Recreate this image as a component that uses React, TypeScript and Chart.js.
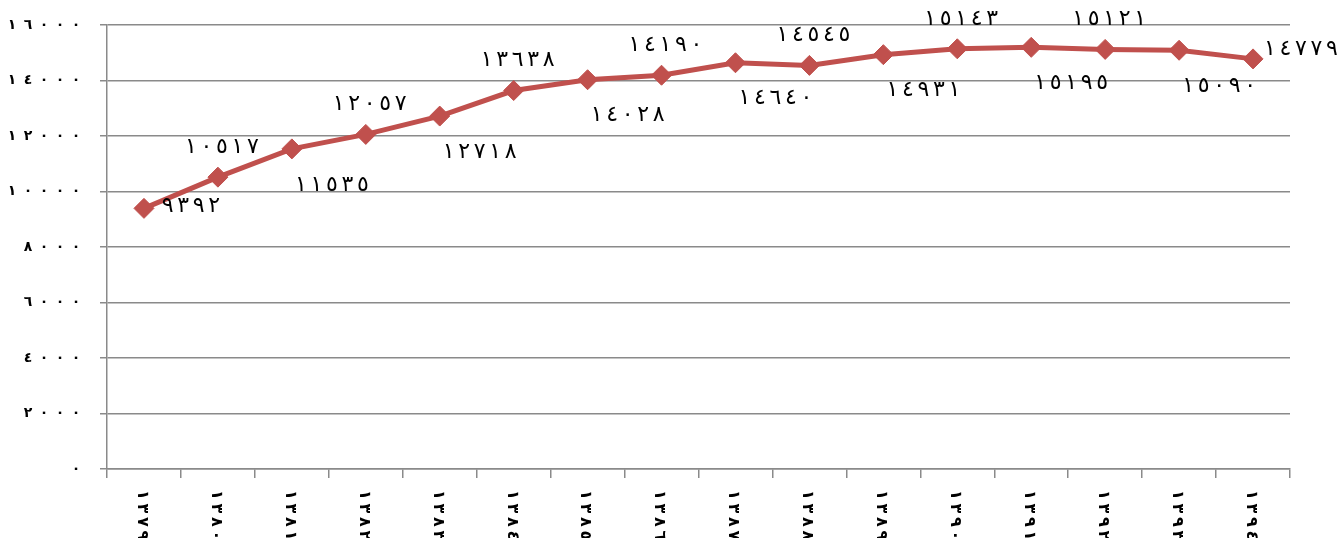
import { useEffect, useRef } from 'react';
import { Chart, registerables } from 'chart.js';
Chart.register(...registerables);

const years = ['١٣٧٩', '١٣٨٠', '١٣٨١', '١٣٨٢', '١٣٨٣', '١٣٨٤', '١٣٨٥', '١٣٨٦', '١٣٨٧', '١٣٨٨', '١٣٨٩', '١٣٩٠', '١٣٩١', '١٣٩٢', '١٣٩٣', '١٣٩٤'];
const values = [9392, 10517, 11535, 12057, 12718, 13638, 14028, 14190, 14640, 14545, 14931, 15143, 15195, 15121, 15090, 14779];
const yTicks = [0, 2000, 4000, 6000, 8000, 10000, 12000, 14000, 16000];

const toAr = (v: number | string) => String(v).replace(/\d/g, (d) => '٠١٢٣٤٥٦٧٨٩'[+d]);

const LINE = '#C0504D';
const GRID = '#8a8a8a';

// draws digits one by one with a fixed advance (wide Excel-like spacing)
function drawSpaced(ctx: CanvasRenderingContext2D, text: string, x: number, y: number, adv: number, align: 'left' | 'center' | 'right') {
  const chars = Array.from(text);
  const total = adv * (chars.length - 1);
  let start = x;
  if (align === 'center') start = x - total / 2;
  else if (align === 'right') start = x - total;
  const prev = ctx.textAlign;
  ctx.textAlign = 'center';
  chars.forEach((c, i) => ctx.fillText(c, start + i * adv, y));
  ctx.textAlign = prev;
}

const textPlugin = {
  id: 'texts',
  afterDraw(chart: any) {
    const xs = chart.scales.x;
    const ys = chart.scales.y;
    const ctx = chart.ctx;
    ctx.save();
    ctx.fillStyle = '#000';
    ctx.textBaseline = 'middle';
    // x labels, rotated clockwise
    ctx.font = 'bold 16px "DejaVu Sans"';
    years.forEach((lab, i) => {
      const x = xs.getPixelForValue(i) - 2;
      ctx.save();
      ctx.translate(x, xs.top + 26);
      ctx.rotate(Math.PI / 2);
      drawSpaced(ctx, lab, 0, 0, 13.5, 'left');
      ctx.restore();
    });
    // y labels
    ctx.font = 'bold 14px "DejaVu Sans"';
    yTicks.forEach((v) => {
      drawSpaced(ctx, toAr(v), ys.right - 31, ys.getPixelForValue(v), 16, 'right');
    });
    ctx.restore();
  },
  afterDatasetsDraw(chart: any) {
    const ctx = chart.ctx;
    const meta = chart.getDatasetMeta(0);
    ctx.save();
    ctx.fillStyle = '#000';
    ctx.font = '22px "DejaVu Serif", "DejaVu Sans"';
    ctx.textBaseline = 'middle';
    const n = values.length;
    meta.data.forEach((pt: any, i: number) => {
      let dx = 0;
      let dy = 0;
      if (i === 0) { dx = 47; dy = -2; }
      else if (i === n - 1) { dx = 48; dy = -10; }
      else if (i % 2 === 1) { dx = 4; dy = -30; }
      else { dx = 40; dy = 36; }
      drawSpaced(ctx, toAr(values[i]), pt.x + dx, pt.y + dy, 15.5, 'center');
    });
    ctx.restore();
  },
};

export default function App() {
  const ref = useRef<HTMLCanvasElement>(null);
  useEffect(() => {
    if (!ref.current) return;
    const chart = new Chart(ref.current, {
      type: 'line',
      data: {
        labels: years,
        datasets: [
          {
            data: values,
            borderColor: LINE,
            backgroundColor: LINE,
            borderWidth: 5,
            pointStyle: 'rectRot',
            pointRadius: 10,
            pointBorderWidth: 1,
            pointBackgroundColor: LINE,
            pointBorderColor: LINE,
            tension: 0,
          },
        ],
      },
      options: {
        responsive: false,
        animation: false,
        layout: { padding: { left: 0, top: 25, right: 54, bottom: 0 } },
        plugins: { legend: { display: false }, tooltip: { enabled: false }, title: { display: false } },
        scales: {
          x: {
            offset: true,
            grid: { display: true, drawOnChartArea: false, drawTicks: true, tickLength: 9, offset: true, color: GRID, lineWidth: 1.5 },
            border: { display: true, color: GRID, width: 1.5 },
            ticks: { display: false },
            afterFit(scale: any) { scale.height = 69; },
          },
          y: {
            min: 0,
            max: 16000,
            grid: { color: GRID, lineWidth: 1.5, tickLength: 7 },
            border: { display: true, color: GRID, width: 1.5 },
            ticks: { display: false, stepSize: 2000 },
            afterFit(scale: any) { scale.width = 107; },
          },
        },
      },
      plugins: [textPlugin],
    });
    return () => chart.destroy();
  }, []);
  return (
    <div style={{ position: 'fixed', left: 0, top: 0, width: 1344, height: 538, background: '#fff' }}>
      <canvas ref={ref} width={1344} height={538} />
    </div>
  );
}
